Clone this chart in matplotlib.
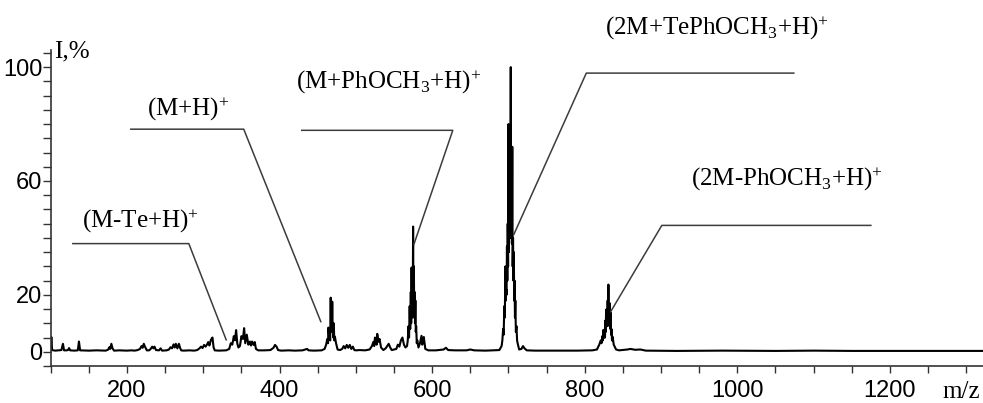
import matplotlib
matplotlib.use("Agg")
import matplotlib.pyplot as plt
import numpy as np

plt.rcParams['mathtext.fontset'] = 'custom'
plt.rcParams['mathtext.rm'] = 'Liberation Serif'
plt.rcParams['mathtext.it'] = 'Liberation Serif:italic'
plt.rcParams['mathtext.bf'] = 'Liberation Serif:bold'

# ---- spectrum trace (m/z, intensity %) ----
region_low = [(100, 0.5), (100.8, 5.2), (101.8, 0.6), (106, 0.4), (110, 0.5), (114, 0.6), (116, 2.8),
              (117.5, 0.5), (121, 0.5), (123, 0.7), (124, 1.3), (125.5, 0.5), (131, 0.4), (135.5, 0.5),
              (137, 3.6), (138.5, 0.5), (150, 0.4), (160, 0.5), (172, 0.4), (175, 0.7), (177, 1.6),
              (178, 1.0), (179.5, 2.8), (181, 1.2), (183, 0.4), (190, 0.5), (200, 0.4), (206, 0.5),
              (210, 0.4), (214, 0.6), (217, 1.0), (219, 2.0), (220.5, 1.4), (222, 2.8), (223.5, 1.8),
              (226, 0.5), (229, 0.5), (231, 1.0), (233, 1.8), (234.5, 1.2), (236, 1.8), (238, 0.6),
              (242, 0.5), (244, 1.2), (246, 0.4), (252, 0.5), (255, 0.8), (257, 1.6), (259, 1.2),
              (261, 2.6), (262.5, 1.5), (264, 2.8), (266, 1.2), (268, 2.8), (269.5, 1.4), (271, 0.5),
              (274, 0.4), (282, 0.5), (288, 0.4), (292, 0.6), (295, 1.2), (297, 1.8), (299, 1.3),
              (301, 2.4), (303, 1.8), (305, 2.6), (306.5, 3.4), (308, 2.2), (310, 4.2), (312, 5.0),
              (313.5, 1.5), (315, 0.5), (320, 0.4), (330, 0.5)]
region_340 = [(334, 1.0), (336, 3.0), (338, 2.5), (340, 5.5), (341.5, 4.0), (343, 7.6), (344.5, 3.0),
              (346, 1.5), (348, 2.0), (350, 5.5), (352, 4.5), (353.5, 8.3), (355, 3.0), (357, 6.0),
              (359, 2.5), (361, 3.6), (362.5, 2.2), (364, 3.6), (366, 2.4), (367.5, 3.4), (369, 1.0),
              (372, 0.5), (380, 0.5), (388, 0.6), (392, 1.4), (394, 2.4), (396, 1.8), (398, 0.6),
              (402, 0.4), (412, 0.5), (420, 0.4), (430, 0.5), (436, 1.0), (438, 0.5), (445, 0.4),
              (455, 0.5)]
region_468 = [(459, 1.0), (461, 2.5), (462.5, 4.5), (463.5, 3.0), (464, 8.5), (465, 5.0), (465.5, 7.0),
              (466.3, 4.0), (467, 19.0), (467.5, 8.0), (468, 12.0), (468.5, 7.0), (469, 17.6),
              (469.5, 8.0), (470, 9.0), (470.5, 5.0), (471, 10.0), (471.7, 4.0), (472.5, 5.3), (474, 3.0),
              (476, 0.8), (479, 0.6), (482, 1.0), (484, 2.0), (486, 1.2), (488, 2.4), (490, 1.4),
              (492, 2.4), (494, 1.0), (496, 1.8), (498, 0.6), (500, 0.5), (505, 0.6), (512, 0.5),
              (518, 0.8)]
region_575 = [(521, 2.0), (523, 3.5), (524, 2.0), (525, 5.0), (526.5, 4.0), (527.2, 2.5), (528, 6.3),
              (529.5, 3.5), (531, 4.5), (533, 1.5), (536, 0.6), (539, 1.2), (541, 2.0), (543, 2.8),
              (545, 1.5), (547, 0.6), (550, 0.8), (553, 1.0), (555, 2.5), (557, 1.8), (559, 4.0),
              (561, 5.0), (563, 2.5), (565, 1.5), (567, 2.0), (568, 4.0), (569, 9.0), (569.7, 5.0),
              (570.5, 16.0), (571.2, 8.0), (572, 21.0), (572.5, 10.0), (573, 29.6), (573.5, 12.0),
              (574, 20.0), (574.5, 14.0), (575, 44.0), (575.5, 15.0), (576, 30.0), (576.5, 12.0),
              (577, 21.0), (577.5, 10.0), (578, 18.0), (578.5, 7.0), (579, 9.0), (579.8, 3.0),
              (580.5, 4.0), (582, 1.5), (584, 3.0), (586, 5.6), (587, 2.5), (587.5, 4.0), (589, 5.2),
              (591, 1.0), (595, 0.5)]
region_mid = [(605, 0.5), (615, 0.8), (618, 1.4), (621, 0.6), (630, 0.5), (645, 0.5), (650, 0.8),
              (655, 0.5), (670, 0.4), (680, 0.5), (688, 0.6)]
region_700 = [(691, 2.0), (692, 4.0), (693, 8.0), (693.7, 6.0), (694.5, 16.0), (695.2, 12.0),
              (696, 30.0), (696.5, 18.0), (697, 22.0), (697.5, 20.0), (698, 37.0), (698.5, 25.0),
              (699, 45.0), (699.5, 30.0), (700, 80.0), (700.5, 35.0), (701, 55.0), (701.5, 40.0),
              (702, 70.0), (702.5, 45.0), (703, 100.0), (703.5, 40.0), (704, 62.0), (704.5, 38.0),
              (705, 72.0), (705.5, 30.0), (706, 40.0), (706.5, 25.0), (707, 35.0), (707.5, 18.0),
              (708, 25.0), (708.5, 12.0), (709, 18.0), (709.7, 7.0), (710.5, 9.0), (711.3, 4.0),
              (712, 3.0), (714, 0.8), (717, 1.0), (719, 2.0), (721, 1.2), (724, 0.5), (735, 0.4),
              (760, 0.4), (790, 0.4), (810, 0.5)]
region_830 = [(816, 0.8), (819, 2.5), (821, 4.0), (822, 3.0), (823, 5.5), (823.8, 4.0), (824.5, 7.7),
              (825.3, 5.0), (826, 6.0), (826.5, 5.0), (827, 11.0), (827.5, 7.0), (828, 14.8),
              (828.5, 9.0), (829, 10.0), (829.5, 9.0), (830, 18.0), (830.5, 10.0), (831, 23.6),
              (831.5, 10.0), (832, 13.0), (832.5, 9.0), (833, 17.0), (833.5, 8.0), (834, 13.7),
              (834.5, 6.0), (835, 8.0), (835.7, 4.0), (836.5, 5.3), (838, 2.5), (841, 0.8), (845, 0.5),
              (856, 0.8), (860, 1.0), (866, 0.7), (873, 0.8), (880, 0.4), (920, 0.3), (980, 0.4),
              (1050, 0.3), (1100, 0.4), (1150, 0.3), (1200, 0.3), (1250, 0.3), (1322, 0.3)]

trace = region_low + region_340 + region_468 + region_575 + region_mid + region_700 + region_830
mz = [p[0] for p in trace]
intensity = [p[1] for p in trace]

# ---- annotations: label, text position, leader polyline (m/z, I) ----
ann_labels = [r'(M-Te+H)$^{+}$', r'(M+H)$^{+}$', r'(M+PhOCH$_{3}$+H)$^{+}$',
              r'(2M+TePhOCH$_{3}$+H)$^{+}$', r'(2M-PhOCH$_{3}$+H)$^{+}$']
ann_text_xy = [(217, 45.8), (280, 85.2), (543, 94.7), (973, 113.7), (1065, 60.6)]
ann_lines = [
    [(129, 38.0), (281, 38.0), (330, 4.2)],
    [(205, 78.2), (353, 78.2), (454, 10.6)],
    [(429, 77.8), (627, 77.8), (576, 37.7)],
    [(1074, 97.9), (802, 97.9), (707, 41.2)],
    [(1175, 44.4), (901, 44.4), (834, 14.1)],
]

x_major = [200, 400, 600, 800, 1000, 1200]
y_major = [0, 20, 60, 100]

fig = plt.figure(figsize=(9.83, 4.03), dpi=100)
ax = fig.add_axes([0.0516, 0.0918, 0.9484, 0.784])

ax.plot(mz, intensity, color='black', lw=1.5)

for lab, (tx, ty), pts in zip(ann_labels, ann_text_xy, ann_lines):
    xs = [p[0] for p in pts]
    ys = [p[1] for p in pts]
    ax.plot(xs, ys, color='#3c3c3c', lw=1.1, clip_on=False)
    ax.text(tx, ty, lab, ha='center', va='center', fontsize=18,
            family='Liberation Serif', clip_on=False)

ax.set_xlim(100, 1322)
ax.set_ylim(-5, 106)

for s in ['top', 'right']:
    ax.spines[s].set_visible(False)
for s in ['left', 'bottom']:
    ax.spines[s].set_color('#333333')
    ax.spines[s].set_linewidth(1.2)

ax.set_xticks(x_major)
ax.set_xticks(np.arange(100, 1322, 50), minor=True)
ax.set_yticks(y_major)
ax.set_yticks(np.arange(-5, 106, 5), minor=True)
ax.tick_params(which='both', direction='out', color='#333333', width=1.0)
ax.tick_params(axis='x', which='both', length=5)
ax.tick_params(axis='y', which='both', length=6)
ax.tick_params(axis='x', which='major', pad=5)
ax.tick_params(axis='y', which='major', pad=0)
for lbl in ax.get_xticklabels() + ax.get_yticklabels():
    lbl.set_fontfamily('Liberation Sans')
    lbl.set_fontsize(17)

ax.text(104, 105.6, 'I,%', ha='left', va='center', fontsize=18,
        family='Liberation Serif', clip_on=False)
ax.text(1293, -14.1, 'm/z', ha='center', va='center', fontsize=18,
        family='Liberation Serif', clip_on=False)

fig.savefig('out.png', dpi=100)
